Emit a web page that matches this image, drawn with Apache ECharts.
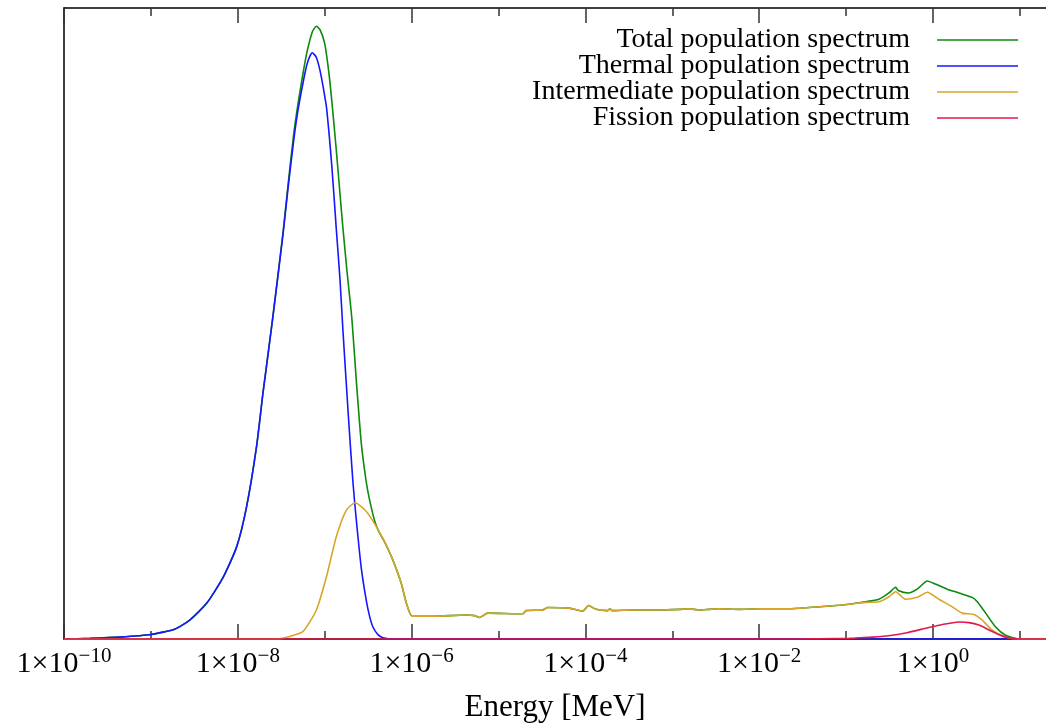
<!DOCTYPE html>
<html><head><meta charset="utf-8">
<script src="https://cdn.jsdelivr.net/npm/echarts@6/dist/echarts.min.js"></script>
<style>html,body{margin:0;padding:0;background:#fff}#c{width:1046px;height:725px}</style>
</head><body><div id="c"></div>
<script>
const seriesNames = ['Total population spectrum','Thermal population spectrum','Intermediate population spectrum','Fission population spectrum'];
const majorTicks = [1e-10, 1e-8, 1e-6, 1e-4, 1e-2, 1];
const minorTicks = [1e-9, 1e-7, 1e-5, 1e-3, 1e-1, 10];

// Energy [MeV] and relative population (arbitrary units)
const thermalE = [1e-10,2.0e-10,4.4e-10,1.0e-9,1.9e-9,2.8e-9,4.4e-9,6.8e-9,9.7e-9,1.26e-8,1.64e-8,1.95e-8,2.51e-8,3.32e-8,3.79e-8,4.4e-8,4.93e-8,5.89e-8,6.5e-8,7.2e-8,8.0e-8,8.8e-8,9.6e-8,1.05e-7,1.21e-7,1.36e-7,1.50e-7,1.62e-7,1.87e-7,2.11e-7,2.31e-7,2.64e-7,3.02e-7,3.3e-7,3.59e-7,4.1e-7,4.68e-7,6.4e-7,20];
const thermalV = [0,0.001,0.003,0.007,0.016,0.030,0.057,0.098,0.146,0.209,0.304,0.390,0.506,0.642,0.715,0.790,0.838,0.895,0.918,0.929,0.922,0.902,0.875,0.842,0.748,0.650,0.570,0.490,0.355,0.250,0.189,0.112,0.060,0.035,0.019,0.007,0.002,0,0];

const interE = [1e-10,2.79e-8,3.96e-8,5.64e-8,8.03e-8,1.05e-7,1.36e-7,1.77e-7,2.25e-7,3.02e-7,3.93e-7,4.89e-7,6.10e-7,7.62e-7,8.70e-7,1.02e-6,1.76e-6,4.26e-6,5.3e-6,6.05e-6,7.54e-6,1.90e-5,2.08e-5,3.23e-5,3.69e-5,6.55e-5,9.31e-5,1.09e-4,1.33e-4,1.80e-4,1.92e-4,2.04e-4,3.50e-4,7.10e-4,1.20e-3,1.57e-3,2.04e-3,2.66e-3,3.47e-3,5.9e-3,1.0e-2,2.21e-2,3.76e-2,9.07e-2,0.168,0.239,0.312,0.372,0.485,0.659,0.859,1.17,1.67,2.17,2.96,3.69,4.81,6.85,9.75,20];
const interV = [0,0,0.004,0.012,0.046,0.099,0.162,0.204,0.216,0.202,0.178,0.154,0.125,0.088,0.057,0.036,0.036,0.038,0.037,0.034,0.041,0.040,0.045,0.046,0.050,0.049,0.044,0.053,0.047,0.045,0.048,0.045,0.046,0.046,0.047,0.048,0.046,0.047,0.048,0.047,0.048,0.048,0.050,0.054,0.058,0.059,0.067,0.075,0.063,0.066,0.074,0.063,0.051,0.041,0.039,0.030,0.014,0.003,0,0];

const fissionE = [1e-10,2.88e-2,0.05,0.108,0.141,0.2,0.34,0.5,0.824,1.28,1.99,2.59,3.38,4.81,6.85,9.75,20];
const fissionV = [0,0,0.0005,0.001,0.002,0.003,0.006,0.010,0.017,0.023,0.027,0.026,0.022,0.012,0.003,0,0];

const totalE = [1e-10,2.0e-10,4.4e-10,1.0e-9,1.9e-9,2.8e-9,4.4e-9,6.8e-9,9.7e-9,1.26e-8,1.64e-8,1.95e-8,2.51e-8,3.32e-8,3.79e-8,4.4e-8,4.93e-8,5.64e-8,6.3e-8,7.2e-8,8.0e-8,8.8e-8,1.0e-7,1.1e-7,1.19e-7,1.36e-7,1.6e-7,1.8e-7,2.06e-7,2.31e-7,2.64e-7,3.0e-7,3.29e-7,3.8e-7,4.28e-7,4.89e-7,6.10e-7,7.62e-7,8.70e-7,1.02e-6,1.76e-6,4.26e-6,5.3e-6,6.05e-6,7.54e-6,1.90e-5,2.08e-5,3.23e-5,3.69e-5,6.55e-5,9.31e-5,1.09e-4,1.33e-4,1.80e-4,1.92e-4,2.04e-4,3.50e-4,7.10e-4,1.20e-3,1.57e-3,2.04e-3,2.66e-3,3.47e-3,5.9e-3,1.0e-2,2.21e-2,3.76e-2,9.07e-2,0.168,0.239,0.312,0.372,0.398,0.52,0.659,0.859,1.07,1.46,1.99,2.83,3.24,4.04,5.26,6.85,9.75,20];
const totalV = [0,0.001,0.003,0.007,0.016,0.030,0.057,0.098,0.146,0.209,0.304,0.390,0.506,0.645,0.720,0.800,0.848,0.897,0.932,0.962,0.971,0.966,0.944,0.905,0.862,0.775,0.660,0.585,0.506,0.410,0.310,0.250,0.220,0.185,0.168,0.154,0.125,0.088,0.057,0.036,0.036,0.038,0.037,0.034,0.041,0.040,0.045,0.046,0.050,0.049,0.044,0.053,0.047,0.045,0.048,0.045,0.046,0.046,0.047,0.048,0.046,0.047,0.048,0.047,0.048,0.048,0.050,0.054,0.059,0.063,0.073,0.082,0.077,0.073,0.079,0.092,0.087,0.079,0.073,0.066,0.059,0.041,0.019,0.006,0,0];

const colors = ['#0b8a0b','#1616ff','#d9a52a','#e3194b'];
const FONT = 'Liberation Serif';

function pairs(xs, ys){ return xs.map((x,i)=>[x, ys[i]]); }

const chart = echarts.init(document.getElementById('c'), null, {renderer:'canvas'});
const common = {type:'log', logBase:10, min:1e-10, max:20, gridIndex:0};
const tickStyle = {color:'#333', width:1.5};
chart.setOption({
  animation:false,
  backgroundColor:'#fff',
  grid:{left:64, top:8, right:0, bottom:86, containLabel:false, outerBoundsMode:'none'},
  legend:{
    orient:'vertical', right:23, top:21, align:'right', icon:'rect',
    itemWidth:81, itemHeight:1.6, itemGap:-2, selectedMode:false,
    data:seriesNames,
    textStyle:{fontFamily:FONT, fontSize:28, color:'#000', padding:[0,22,0,0]}
  },
  xAxis:[
    Object.assign({}, common, {
      position:'bottom',
      axisLine:{show:true, lineStyle:{color:'#000', width:1.5}},
      axisTick:{show:true, inside:true, length:15, customValues:majorTicks, lineStyle:tickStyle},
      axisLabel:{show:true, customValues:majorTicks, margin:7,
        formatter:function(v){ const e=Math.round(Math.log10(v)); return '{b|1×10}{s|'+(e<0?'\u2212':'')+Math.abs(e)+'}'; },
        rich:{ b:{fontFamily:FONT, fontSize:30, lineHeight:36, color:'#000'},
               s:{fontFamily:FONT, fontSize:21, lineHeight:21, verticalAlign:'top', color:'#000'} }
      },
      splitLine:{show:false},
      name:'Energy [MeV]', nameLocation:'middle', nameGap:53, nameMoveOverlap:false,
      nameTextStyle:{fontFamily:FONT, fontSize:31, color:'#000'}
    }),
    Object.assign({}, common, {
      position:'bottom',
      axisLine:{show:false},
      axisTick:{show:true, inside:true, length:8, customValues:minorTicks, lineStyle:tickStyle},
      axisLabel:{show:false}, splitLine:{show:false}
    }),
    Object.assign({}, common, {
      position:'top',
      axisLine:{show:true, lineStyle:{color:'#000', width:1.5}},
      axisTick:{show:true, inside:true, length:15, customValues:majorTicks, lineStyle:tickStyle},
      axisLabel:{show:false}, splitLine:{show:false}
    }),
    Object.assign({}, common, {
      position:'top',
      axisLine:{show:false},
      axisTick:{show:true, inside:true, length:8, customValues:minorTicks, lineStyle:tickStyle},
      axisLabel:{show:false}, splitLine:{show:false}
    })
  ],
  yAxis:{type:'value', min:0, max:1,
    axisLine:{show:true, lineStyle:{color:'#000', width:1.5}},
    axisTick:{show:false}, axisLabel:{show:false}, splitLine:{show:false}},
  series:[
    {name:seriesNames[0], type:'line', data:pairs(totalE,totalV), color:colors[0]},
    {name:seriesNames[1], type:'line', data:pairs(thermalE,thermalV), color:colors[1]},
    {name:seriesNames[2], type:'line', data:pairs(interE,interV), color:colors[2]},
    {name:seriesNames[3], type:'line', data:pairs(fissionE,fissionV), color:colors[3]}
  ].map(s=>Object.assign(s,{xAxisIndex:0, yAxisIndex:0, showSymbol:false, symbol:'none', smooth:0.2,
        lineStyle:{width:1.6, color:s.color}, itemStyle:{color:s.color}}))
});
</script></body></html>
